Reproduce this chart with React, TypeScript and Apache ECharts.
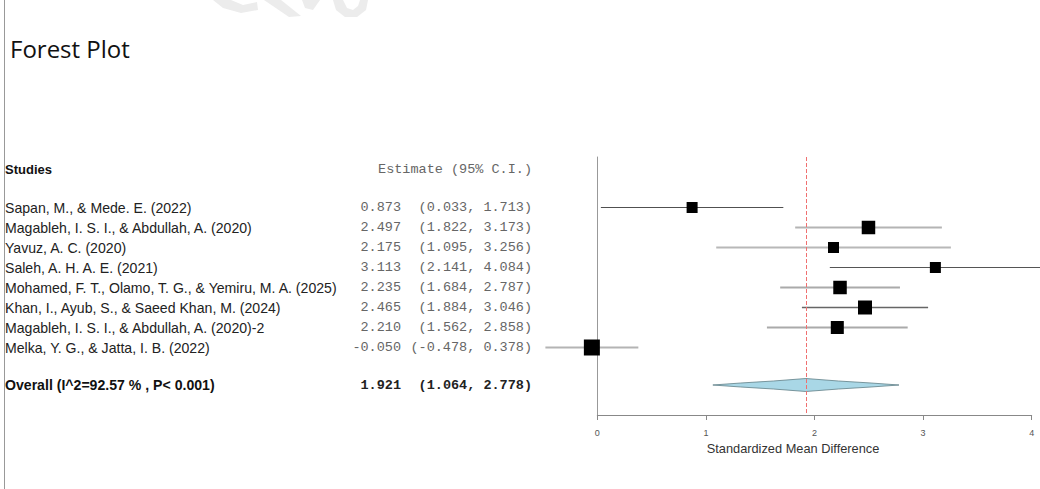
import React, { useEffect, useRef } from "react";
import * as echarts from "echarts";

const studies = [
  "Sapan, M., & Mede. E. (2022)",
  "Magableh, I. S. I., & Abdullah, A. (2020)",
  "Yavuz, A. C. (2020)",
  "Saleh, A. H. A. E. (2021)",
  "Mohamed, F. T., Olamo, T. G., & Yemiru, M. A. (2025)",
  "Khan, I., Ayub, S., & Saeed Khan, M. (2024)",
  "Magableh, I. S. I., & Abdullah, A. (2020)-2",
  "Melka, Y. G., & Jatta, I. B. (2022)",
];
const estimates = [0.873, 2.497, 2.175, 3.113, 2.235, 2.465, 2.21, -0.05];
const lowers = [0.033, 1.822, 1.095, 2.141, 1.684, 1.884, 1.562, -0.478];
const uppers = [1.713, 3.173, 3.256, 4.084, 2.787, 3.046, 2.858, 0.378];
const weights = [11, 13.5, 11, 11, 13.5, 14, 13, 16];

const overallLabel = "Overall (I^2=92.57 % , P< 0.001)";
const overallEstimate = 1.921;
const overallLower = 1.064;
const overallUpper = 2.778;

const xTicks = [0, 1, 2, 3, 4];

const lineColors = ["#505050", "#b4b4b4", "#b8b8b8", "#555", "#aaa", "#666", "#aaa", "#b4b4b4"];
const lineWidths = [1.2, 2, 2, 1.2, 1.8, 1.3, 1.8, 2];

const SANS = "Liberation Sans, Arial, sans-serif";
const MONO = "Liberation Mono, Courier New, monospace";
const LABEL_SIZE = 14.1;

export default function App() {
  const ref = useRef<HTMLDivElement>(null);
  useEffect(() => {
    if (!ref.current) return;
    const chart = echarts.init(ref.current, null, { renderer: "svg" });

    const rowData = studies.map((_, i) => [estimates[i], 2.5 + i, lowers[i], uppers[i], weights[i]]);
    const overallY = 11.4;
    const fmt = (v: number) => v.toFixed(3);

    const option: any = {
      animation: false,
      backgroundColor: "#fff",
      grid: { left: 597.3, right: 8.3, top: 157, bottom: 74 },
      xAxis: {
        type: "value",
        min: xTicks[0],
        max: xTicks[xTicks.length - 1],
        interval: 1,
        axisLine: { show: true, onZero: false, lineStyle: { color: "#888", width: 1 } },
        axisTick: { show: true, length: 5, lineStyle: { color: "#888" } },
        axisLabel: { fontSize: 9, color: "#555", margin: 13, fontFamily: SANS },
        splitLine: { show: false },
      },
      yAxis: {
        type: "value",
        min: 0,
        max: 12.9,
        inverse: true,
        axisLine: { show: true, onZero: false, lineStyle: { color: "#999", width: 1 } },
        axisTick: { show: false },
        axisLabel: { show: false },
        splitLine: { show: false },
      },
      graphic: [
        { type: "line", shape: { x1: 4.5, y1: 0, x2: 4.5, y2: 489 }, style: { stroke: "#999", lineWidth: 1 } },
        { type: "polygon", shape: { points: [[213, 0], [231, 0], [243, 5], [257, 2], [258, 10], [241, 13], [223, 8]] }, style: { fill: "#ececec" } },
        { type: "polygon", shape: { points: [[264, 0], [281, 0], [301, 16], [289, 17]] }, style: { fill: "#ececec" } },
        { type: "polygon", shape: { points: [[302, 0], [320, 0], [313, 10], [305, 8]] }, style: { fill: "#ececec" } },
        { type: "polygon", shape: { points: [[333, 0], [343, 0], [347, 8], [353, 10], [358, 6], [360, 0], [368, 0], [366, 10], [357, 17], [345, 17], [336, 10]] }, style: { fill: "#ececec" } },
        { type: "text", left: 10, top: 36, style: { text: "Forest Plot", fontSize: 24, fontFamily: "Open Sans, sans-serif", fill: "#111" } },
        { type: "text", x: 5, y: 169, style: { text: "Studies", fontSize: 13, fontWeight: "bold", fontFamily: SANS, fill: "#111", verticalAlign: "middle" } },
        { type: "text", x: 532, y: 169, style: { text: "Estimate (95% C.I.)", fontSize: 13.5, fontFamily: MONO, fill: "#666", align: "right", verticalAlign: "middle" } },
        { type: "text", x: 793, y: 448, style: { text: "Standardized Mean Difference", fontSize: 12.8, fontFamily: SANS, fill: "#333", align: "center", verticalAlign: "middle" } },
      ],
      series: [
        {
          type: "custom",
          clip: false,
          data: rowData,
          renderItem: (params: any, api: any) => {
            const i = params.dataIndex;
            const y = api.value(1);
            const c = api.coord([api.value(0), y]);
            const lo = api.coord([api.value(2), y])[0];
            const hi = api.coord([api.value(3), y])[0];
            const s = api.value(4);
            const cy = Math.round(c[1]) + 0.5;
            return {
              type: "group",
              children: [
                { type: "line", shape: { x1: lo, y1: cy, x2: hi, y2: cy }, style: { stroke: lineColors[i], lineWidth: lineWidths[i] } },
                { type: "rect", shape: { x: c[0] - s / 2, y: cy - s / 2, width: s, height: s }, style: { fill: "#000" } },
                { type: "text", x: 5, y: cy, style: { text: studies[i], fontSize: LABEL_SIZE, fontFamily: SANS, fill: "#222", verticalAlign: "middle" } },
                { type: "text", x: 401, y: cy, style: { text: fmt(estimates[i]), fontSize: 13.5, fontFamily: MONO, fill: "#666", align: "right", verticalAlign: "middle" } },
                { type: "text", x: 532, y: cy, style: { text: `(${fmt(lowers[i])}, ${fmt(uppers[i])})`, fontSize: 13.5, fontFamily: MONO, fill: "#666", align: "right", verticalAlign: "middle" } },
              ],
            };
          },
          markLine: {
            silent: true,
            symbol: "none",
            label: { show: false },
            lineStyle: { color: "#f07070", type: "dashed", width: 1 },
            data: [{ xAxis: overallEstimate }],
          },
          z: 3,
        },
        {
          type: "custom",
          clip: false,
          data: [[overallEstimate, overallY, overallLower, overallUpper]],
          renderItem: (params: any, api: any) => {
            const y = api.value(1);
            const c = api.coord([api.value(0), y]);
            const lo = api.coord([api.value(2), y])[0];
            const hi = api.coord([api.value(3), y])[0];
            const cy = c[1];
            const cx = c[0];
            const h = 6.5;
            const pts = [
              [lo, cy],
              [lo + (cx - lo) * 0.3, cy - 2],
              [lo + (cx - lo) * 0.65, cy - 4],
              [cx, cy - h],
              [cx + (hi - cx) * 0.35, cy - 4],
              [cx + (hi - cx) * 0.7, cy - 2],
              [hi, cy],
              [cx + (hi - cx) * 0.7, cy + 2],
              [cx + (hi - cx) * 0.35, cy + 4],
              [cx, cy + h],
              [lo + (cx - lo) * 0.65, cy + 4],
              [lo + (cx - lo) * 0.3, cy + 2],
            ];
            return {
              type: "group",
              children: [
                { type: "polygon", shape: { points: pts }, style: { fill: "#a9d7e6", stroke: "#5f7f86", lineWidth: 0.8 } },
                { type: "text", x: 5, y: cy, style: { text: overallLabel, fontSize: LABEL_SIZE, fontWeight: "bold", fontFamily: SANS, fill: "#111", verticalAlign: "middle" } },
                { type: "text", x: 401, y: cy, style: { text: fmt(overallEstimate), fontSize: 13.5, fontWeight: "bold", fontFamily: MONO, fill: "#222", align: "right", verticalAlign: "middle" } },
                { type: "text", x: 532, y: cy, style: { text: `(${fmt(overallLower)}, ${fmt(overallUpper)})`, fontSize: 13.5, fontWeight: "bold", fontFamily: MONO, fill: "#222", align: "right", verticalAlign: "middle" } },
              ],
            };
          },
          z: 2,
        },
      ],
    };
    chart.setOption(option);
    return () => chart.dispose();
  }, []);
  return <div ref={ref} style={{ position: "absolute", left: 0, top: 0, width: 1040, height: 489 }} />;
}
